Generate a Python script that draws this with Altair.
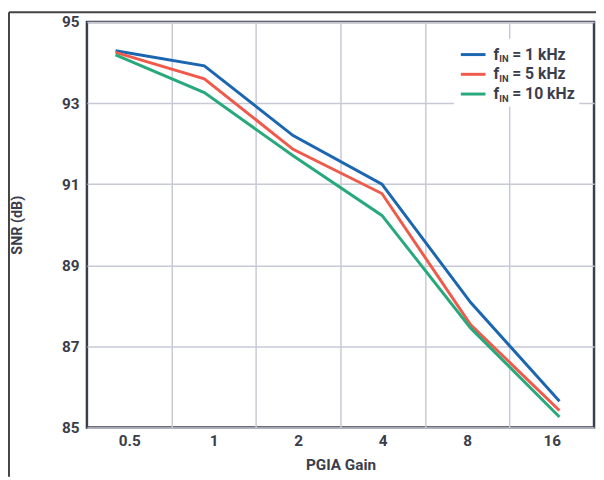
import altair as alt
import pandas as pd

# ---- data ----
gains = [0.5, 1, 2, 4, 8, 16]
gain_labels = ["0.5", "1", "2", "4", "8", "16"]
series_names = ["1 kHz", "5 kHz", "10 kHz"]
series_colors = ["#1b66b1", "#ef5a4b", "#27a97c"]
snr_1k = [94.29, 93.92, 92.20, 91.00, 88.08, 85.65]
snr_5k = [94.25, 93.60, 91.86, 90.77, 87.53, 85.42]
snr_10k = [94.19, 93.26, 91.70, 90.23, 87.45, 85.26]
y_ticks = [85, 87, 89, 91, 93, 95]

rows = []
for name, vals in zip(series_names, [snr_1k, snr_5k, snr_10k]):
    for g, v in zip(gains, vals):
        rows.append({"series": name, "gain": g, "snr": v})
df = pd.DataFrame(rows)

W, H = 514, 411
TXT = "#3b3d4b"
GRID = "#c7cad6"
FRAME = "#3b3e4e"
FONT = "Roboto"

label_js = "[" + ",".join("'%s'" % s for s in gain_labels) + "]"

xscale = alt.Scale(domain=[0, 6], nice=False, zero=False)
yscale = alt.Scale(domain=[85, 95], nice=False, zero=False)

lines = (
    alt.Chart(df)
    .transform_calculate(pos="1.389 + 1.0506*log(datum.gain)/LN2")
    .mark_line(strokeWidth=3)
    .encode(
        x=alt.X(
            "pos:Q",
            scale=xscale,
            axis=alt.Axis(
                values=[0.5, 1.5, 2.5, 3.5, 4.5, 5.5],
                labelExpr=label_js + "[floor(datum.value)]",
                grid=False, ticks=False, domain=False,
                labelFont=FONT, labelFontSize=15.5, labelFontWeight="bold",
                labelColor=TXT, labelPadding=6,
                title="PGIA Gain", titleFont=FONT, titleFontSize=15.5,
                titleFontWeight="bold", titleColor=TXT,
                titleX=257, titleY=38, titleBaseline="middle",
            ),
        ),
        y=alt.Y(
            "snr:Q",
            scale=yscale,
            axis=alt.Axis(
                values=y_ticks, grid=True, gridColor=GRID, gridWidth=1.5,
                ticks=False, domain=False,
                labelFont=FONT, labelFontSize=15.5, labelFontWeight="bold",
                labelColor=TXT, labelPadding=8,
                title="SNR (dB)", titleFont=FONT, titleFontSize=14.5,
                titleFontWeight="bold", titleColor=TXT,
                titleX=-70, titleY=H / 2, titleAngle=-90,
                titleAlign="center", titleBaseline="middle",
            ),
        ),
        color=alt.Color(
            "series:N",
            scale=alt.Scale(domain=series_names, range=series_colors),
            legend=None,
        ),
        detail="series:N",
    )
)

# vertical grid lines (column separators) via a second, label-free axis
grid_layer = (
    alt.Chart(pd.DataFrame({"pos": [0.0]}))
    .mark_point(opacity=0)
    .encode(
        x=alt.X(
            "pos:Q",
            scale=xscale,
            axis=alt.Axis(
                values=[1, 2, 3, 4, 5], grid=True, gridColor=GRID, gridWidth=1.5,
                labels=False, ticks=False, domain=False, title="", orient="top",
            ),
        ),
    )
)

one = pd.DataFrame({"a": [0]})

legend_bg = alt.Chart(one).mark_rect(color="white").encode(
    x=alt.value(372), x2=alt.value(499), y=alt.value(17), y2=alt.value(86)
)

legend_layers = []
for i, (name, col) in enumerate(zip(series_names, series_colors)):
    yy = 33 + 20 * i
    legend_layers.append(
        alt.Chart(one).mark_rule(strokeWidth=3, color=col).encode(
            x=alt.value(379), x2=alt.value(404), y=alt.value(yy)
        )
    )
    legend_layers.append(
        alt.Chart(one).mark_text(
            text="f", align="left", baseline="middle", font=FONT,
            fontSize=16, fontWeight="bold", color=TXT,
        ).encode(x=alt.value(412), y=alt.value(yy))
    )
    legend_layers.append(
        alt.Chart(one).mark_text(
            text="IN", align="left", baseline="middle", font=FONT,
            fontSize=9.5, fontWeight="bold", color=TXT,
        ).encode(x=alt.value(418), y=alt.value(yy + 5))
    )
    legend_layers.append(
        alt.Chart(one).mark_text(
            text="= " + name, align="left", baseline="middle", font=FONT,
            fontSize=16, fontWeight="bold", color=TXT,
        ).encode(x=alt.value(431), y=alt.value(yy))
    )

# outer image frame (left & top edges)
outer_top = alt.Chart(one).mark_rule(color="#444444", strokeWidth=2).encode(
    x=alt.value(-79), x2=alt.value(W + 2), y=alt.value(-10)
)
outer_left = alt.Chart(one).mark_rule(color="#444444", strokeWidth=2).encode(
    x=alt.value(-79), y=alt.value(-10), y2=alt.value(H + 50)
)

chart = (
    alt.layer(grid_layer, legend_bg, lines, *legend_layers, outer_top, outer_left)
    .resolve_axis(x="independent")
    .properties(
        width=W, height=H,
        autosize=alt.AutoSizeParams(type="none"),
        padding={"left": 80, "top": 11, "right": 2, "bottom": 50},
        background="white",
    )
    .configure_view(stroke=FRAME, strokeWidth=2.5)
)

chart.save("out.html", embed_options={"renderer": "svg", "actions": False})
